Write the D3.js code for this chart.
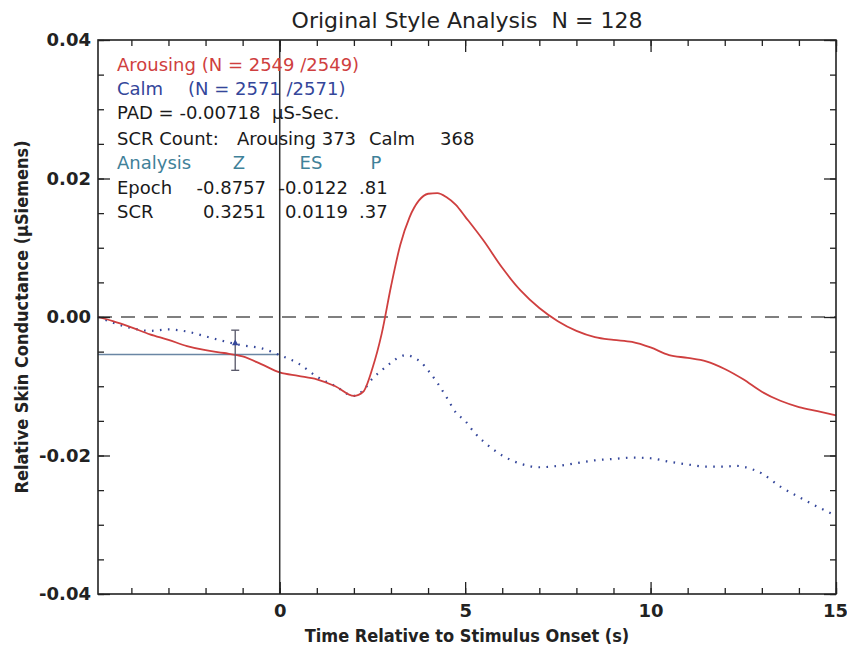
<!DOCTYPE html>
<html>
<head>
<meta charset="utf-8">
<script src="https://cdn.jsdelivr.net/npm/d3@7"></script>
<style>
  body { margin: 0; background: #fff; }
  text { font-family: "DejaVu Sans", "Liberation Sans", Arial, sans-serif; }
  .lbl { font-family: "DejaVu Sans Condensed", "DejaVu Sans", sans-serif; font-weight: bold; fill: #222; }
</style>
</head>
<body>
<script>
// time axis (s) and mean responses (uS)
var arousingT = [-4.9, -4.5, -4.0, -3.5, -3.0, -2.5, -2.0, -1.5, -1.0, -0.5, 0, 0.5, 1.0, 1.5, 2.0, 2.25, 2.5, 2.75, 3.0, 3.25, 3.5, 3.75, 4.0, 4.25, 4.5, 4.75, 5.0, 5.5, 6.0, 6.5, 7.0, 7.5, 8.0, 8.5, 9.0, 9.5, 10.0, 10.5, 11.0, 11.5, 12.0, 12.5, 13.0, 13.5, 14.0, 14.5, 15.0];
var arousingY = [0, -0.0006, -0.0015, -0.0025, -0.0033, -0.0042, -0.0048, -0.0052, -0.0057, -0.0068, -0.0080, -0.0085, -0.0090, -0.0100, -0.0114, -0.0108, -0.0074, -0.0024, 0.0044, 0.0104, 0.0144, 0.0168, 0.0178, 0.0179, 0.0173, 0.0162, 0.0145, 0.0110, 0.0071, 0.0038, 0.0013, -0.0006, -0.0020, -0.0029, -0.0033, -0.0036, -0.0044, -0.0055, -0.0059, -0.0064, -0.0075, -0.0090, -0.0108, -0.0121, -0.0130, -0.0136, -0.0142];

var calmT = [-4.9, -4.5, -4.0, -3.5, -3.0, -2.5, -2.0, -1.5, -1.0, -0.5, 0, 0.5, 1.0, 1.5, 2.0, 2.25, 2.5, 2.75, 3.0, 3.25, 3.4, 3.6, 3.8, 4.0, 4.25, 4.5, 4.75, 5.0, 5.25, 5.5, 5.75, 6.0, 6.25, 6.5, 7.0, 7.5, 8.0, 8.5, 9.0, 9.5, 10.0, 10.5, 11.0, 11.5, 12.0, 12.3, 12.75, 13.0, 13.5, 14.0, 14.5, 15.0];
var calmY = [0, -0.0008, -0.0016, -0.0020, -0.0018, -0.0021, -0.0028, -0.0035, -0.0041, -0.0045, -0.0055, -0.0067, -0.0086, -0.0100, -0.0114, -0.0106, -0.0089, -0.0077, -0.0066, -0.0057, -0.0055, -0.0058, -0.0065, -0.0077, -0.0095, -0.0116, -0.0138, -0.0150, -0.0167, -0.0180, -0.0191, -0.0200, -0.0207, -0.0212, -0.0217, -0.0215, -0.0211, -0.0207, -0.0205, -0.0203, -0.0204, -0.0209, -0.0213, -0.0216, -0.0216, -0.0215, -0.0220, -0.0226, -0.0245, -0.0260, -0.0274, -0.0287];

var baseLevel = -0.0054;            // horizontal pre-stimulus reference
var errT = -1.2, errLo = -0.0077, errHi = -0.0019, errMid = -0.0038;

var xMajor = [0, 5, 10, 15];
var yMajor = [-0.04, -0.02, 0, 0.02, 0.04];

var statHead = ["Analysis", "Z", "ES", "P"];
var statRows = [["Epoch", "-0.8757", "-0.0122", ".81"],
                ["SCR", "0.3251", "0.0119", ".37"]];

var W = 847, H = 648;
var pL = 98, pR = 836, pT = 40, pB = 594;

var svg = d3.select("body").append("svg")
    .attr("width", W)
    .attr("height", H);

var x = d3.scaleLinear().domain([-4.9, 15]).range([pL, pR]);
var y = d3.scaleLinear().domain([-0.04, 0.04]).range([pB, pT]);

var red = "#cf3f3f", blue = "#34469a", teal = "#3f8199";

// zero line
svg.append("line")
    .attr("x1", pL).attr("x2", pR)
    .attr("y1", y(0)).attr("y2", y(0))
    .attr("stroke", "#555").attr("stroke-width", 1.6)
    .attr("stroke-dasharray", "14,9");

// baseline reference
svg.append("line")
    .attr("x1", pL).attr("x2", x(0))
    .attr("y1", y(baseLevel)).attr("y2", y(baseLevel))
    .attr("stroke", "#6a86a4").attr("stroke-width", 1.5);

var line = d3.line().curve(d3.curveMonotoneX);

svg.append("path")
    .attr("d", line(calmT.map(function(t, i) { return [x(t), y(calmY[i])]; })))
    .attr("fill", "none")
    .attr("stroke", blue).attr("stroke-width", 2.2)
    .attr("stroke-dasharray", "1.6,6.4");

svg.append("path")
    .attr("d", line(arousingT.map(function(t, i) { return [x(t), y(arousingY[i])]; })))
    .attr("fill", "none")
    .attr("stroke", red).attr("stroke-width", 1.8);

// error bar
svg.append("line")
    .attr("x1", x(errT)).attr("x2", x(errT))
    .attr("y1", y(errHi)).attr("y2", y(errLo))
    .attr("stroke", "#556").attr("stroke-width", 1.3);
[errHi, errLo].forEach(function(v) {
    svg.append("line")
        .attr("x1", x(errT) - 4).attr("x2", x(errT) + 4)
        .attr("y1", y(v)).attr("y2", y(v))
        .attr("stroke", "#556").attr("stroke-width", 1.3);
});
svg.append("path")
    .attr("d", d3.symbol().type(d3.symbolTriangle).size(18)())
    .attr("transform", "translate(" + x(errT) + "," + y(errMid) + ")")
    .attr("fill", blue);

// stimulus onset
svg.append("line")
    .attr("x1", x(0)).attr("x2", x(0))
    .attr("y1", pT).attr("y2", pB)
    .attr("stroke", "#333").attr("stroke-width", 1.5);

// axes, ticks drawn inward like the original
function fmtY(d) { return d.toFixed(2); }
var yMinor = d3.range(-8, 9).map(function(k) { return k * 0.005; });

svg.append("g")
    .attr("transform", "translate(" + pL + ",0)")
    .call(d3.axisLeft(y).tickValues(yMinor).tickSize(-6).tickFormat(""));
svg.append("g")
    .attr("transform", "translate(" + pL + ",0)")
    .call(d3.axisLeft(y).tickValues(yMajor).tickSize(-12).tickPadding(7).tickFormat(fmtY));
svg.append("g")
    .attr("transform", "translate(" + pR + ",0)")
    .call(d3.axisRight(y).tickValues(yMinor).tickSize(-6).tickFormat(""));
svg.append("g")
    .attr("transform", "translate(" + pR + ",0)")
    .call(d3.axisRight(y).tickValues(yMajor).tickSize(-12).tickFormat(""));

svg.append("g")
    .attr("transform", "translate(0," + pB + ")")
    .call(d3.axisBottom(x).tickValues(d3.range(-4, 16, 1)).tickSize(-6).tickFormat(""));
var xAx = svg.append("g")
    .attr("transform", "translate(0," + pB + ")")
    .call(d3.axisBottom(x).tickValues(xMajor).tickSize(-12).tickPadding(10).tickFormat(d3.format("d")));
svg.append("g")
    .attr("transform", "translate(0," + pT + ")")
    .call(d3.axisTop(x).tickValues(d3.range(-4, 16, 1)).tickSize(-6).tickFormat(""));
svg.append("g")
    .attr("transform", "translate(0," + pT + ")")
    .call(d3.axisTop(x).tickValues(xMajor).tickSize(-12).tickFormat(""));

svg.selectAll(".domain").remove();
svg.selectAll(".tick line").attr("stroke", "#222").attr("stroke-width", 1.3);
svg.selectAll(".tick text")
    .attr("font-family", "DejaVu Sans Condensed, DejaVu Sans, sans-serif")
    .attr("font-weight", "bold")
    .attr("font-size", 18)
    .attr("fill", "#222");
// keep the last label inside the page
xAx.selectAll(".tick text").filter(function(d) { return d === 15; }).attr("dx", -1);

svg.append("rect")
    .attr("x", pL).attr("y", pT)
    .attr("width", pR - pL).attr("height", pB - pT)
    .attr("fill", "none").attr("stroke", "#222").attr("stroke-width", 1.6);

// titles
svg.append("text")
    .attr("x", 467).attr("y", 28)
    .attr("text-anchor", "middle")
    .attr("font-size", 22)
    .attr("fill", "#222")
    .style("white-space", "pre")
    .text("Original Style Analysis  N = 128");

svg.append("text").attr("class", "lbl")
    .attr("x", 467).attr("y", 642)
    .attr("text-anchor", "middle")
    .attr("font-size", 18)
    .text("Time Relative to Stimulus Onset (s)");

svg.append("text").attr("class", "lbl")
    .attr("transform", "translate(28,317) rotate(-90)")
    .attr("text-anchor", "middle")
    .attr("font-size", 18)
    .text("Relative Skin Conductance (\u00b5Siemens)");

// annotation block
function note(tx, ty, s, col, anchor) {
    svg.append("text")
        .attr("x", tx).attr("y", ty)
        .attr("font-size", 18)
        .attr("fill", col || "#1a1a1a")
        .attr("text-anchor", anchor || "start")
        .text(s);
}
note(117, 71, "Arousing (N = 2549 /2549)", red);
note(117, 95, "Calm", blue);
note(188, 95, "(N = 2571 /2571)", blue);
note(117, 119, "PAD = -0.00718");
note(272, 119, "\u00b5S-Sec.");
note(117, 145, "SCR Count:");
note(237, 145, "Arousing 373");
note(369, 145, "Calm");
note(440, 145, "368");

note(117, 169, statHead[0], teal);
note(239, 169, statHead[1], teal, "middle");
note(311, 169, statHead[2], teal, "middle");
note(376, 169, statHead[3], teal, "middle");
statRows.forEach(function(r, i) {
    var ty = 194 + i * 24;
    note(117, ty, r[0]);
    note(266, ty, r[1], null, "end");
    note(348, ty, r[2], null, "end");
    note(359, ty, r[3]);
});
</script>
</body>
</html>
